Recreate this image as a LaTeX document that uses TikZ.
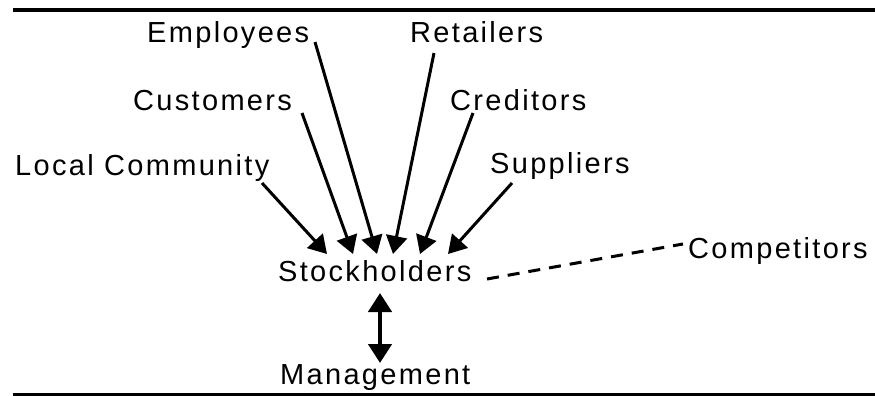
\documentclass[tikz,border=0pt]{standalone}
\usepackage{fontspec}
\setmainfont{Liberation Sans}[LetterSpace=8]
\usetikzlibrary{arrows.meta}
\begin{document}
\begin{tikzpicture}[x=1pt,y=-1pt,
  lbl/.style={anchor=base west,inner sep=0pt,font=\fontsize{29}{32}\selectfont},
  rule/.style={line width=4pt},
  arr/.style={line width=3pt,-{Triangle[length=18pt,width=21pt]}},
  dbl/.style={line width=4.5pt,{Triangle[length=19pt,width=23pt]}-{Triangle[length=19pt,width=23pt]}},
  dsh/.style={line width=3pt,dash pattern=on 12pt off 9pt}]
\useasboundingbox (0,0) rectangle (875,396);
\draw[rule] (13,10) -- (875,10);
\draw[rule] (13,395) -- (875,395);
\node[lbl] (emp)   at (147,43)  {Employees};
\node[lbl] (ret)   at (410,43)  {Retailers};
\node[lbl] (cust)  at (133,110) {Customers};
\node[lbl] (cred)  at (450,110) {Creditors};
\node[lbl] (lc)    at (15,175)  {Local Community};
\node[lbl] (supp)  at (490,173) {Suppliers};
\node[lbl] (stock) at (278,281) {Stockholders};
\node[lbl] (comp)  at (688,258) {Competitors};
\node[lbl] (mgmt)  at (280,384) {Management};
\draw[arr] ([shift={(247,8)}]lc.base west)    -- ([shift={(49,-27)}]stock.base west);
\draw[arr] ([shift={(169,3)}]cust.base west)  -- ([shift={(75,-27)}]stock.base west);
\draw[arr] ([shift={(168,-1)}]emp.base west)  -- ([shift={(99,-27)}]stock.base west);
\draw[arr] ([shift={(24,10)}]ret.base west)   -- ([shift={(115,-27)}]stock.base west);
\draw[arr] ([shift={(23,3)}]cred.base west)   -- ([shift={(142,-27)}]stock.base west);
\draw[arr] ([shift={(22,10)}]supp.base west)  -- ([shift={(170,-27)}]stock.base west);
\draw[dbl] ([shift={(102,12)}]stock.base west) -- ([shift={(100,-21)}]mgmt.base west);
\draw[dsh] ([shift={(209,-2)}]stock.base west) -- ([shift={(-5,-14)}]comp.base west);
\end{tikzpicture}
\end{document}
